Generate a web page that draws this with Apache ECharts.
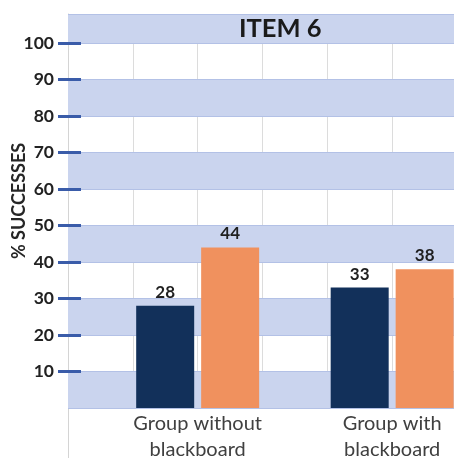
<!DOCTYPE html>
<html>
<head>
<meta charset="utf-8">
<script src="https://cdn.jsdelivr.net/npm/echarts@6/dist/echarts.min.js"></script>
<style>
  html, body { margin: 0; padding: 0; background: #ffffff; }
  #chart { width: 454px; height: 458px; }
</style>
</head>
<body>
<div id="chart"></div>
<script>
// Group labels and where each group sits on the horizontal scale
const categories = ['Group without\nblackboard', 'Group with\nblackboard'];
const categoryPos = [2, 5];

// Percent of successes per group, two measurements each
const firstValues = [28, 33];
const secondValues = [44, 38];

// Labelled ticks on the percent axis
const yTickLabels = [10, 20, 30, 40, 50, 60, 70, 80, 90, 100];

const FONT = 'Lato, "Open Sans", sans-serif';
const NAVY = '#12305a';
const ORANGE = '#f0915e';
const BAND = '#cad4ee';
const TICK_BLUE = '#3a5ca9';

const toPoints = vals => vals.map((v, i) => [categoryPos[i], v]);

const chart = echarts.init(document.getElementById('chart'), null, { renderer: 'canvas' });

const option = {
  backgroundColor: '#ffffff',
  animation: false,
  textStyle: { fontFamily: FONT },
  title: {
    text: 'ITEM 6',
    left: 239,
    top: 16,
    padding: 0,
    textStyle: { fontFamily: FONT, fontSize: 25.5, fontWeight: 'bold', color: '#1a1a1a' }
  },
  grid: [
    // main plot
    { left: 68, right: -3, top: 14, bottom: 50, outerBoundsMode: 'none', containLabel: false },
    // tick marks for 10..100
    { left: 68, right: -3, top: 43, bottom: 86.5, outerBoundsMode: 'none', containLabel: false },
    // left boundary line running down past the plot
    { left: 68, width: 10, top: 14, bottom: 0, outerBoundsMode: 'none', containLabel: false }
  ],
  xAxis: [
    {
      gridIndex: 0,
      type: 'value',
      min: 0,
      max: 6,
      interval: 1,
      z: 0,
      axisLine: { show: false },
      axisTick: { show: false },
      splitLine: { show: true, lineStyle: { color: '#dcdcdc', width: 1 } },
      axisLabel: {
        margin: 3,
        color: '#404040',
        fontFamily: FONT,
        fontSize: 20,
        lineHeight: 26,
        formatter: v => {
          const i = categoryPos.indexOf(v);
          return i >= 0 ? categories[i] : '';
        }
      }
    },
    { gridIndex: 1, type: 'value', min: 0, max: 6, show: false },
    { gridIndex: 2, type: 'value', min: 0, max: 1, show: false }
  ],
  yAxis: [
    {
      gridIndex: 0,
      type: 'value',
      min: 0,
      max: 108,
      interval: 10,
      z: 1,
      name: '% SUCCESSES',
      nameLocation: 'middle',
      nameGap: 40,
      nameTextStyle: {
        fontFamily: FONT, fontSize: 18, fontWeight: 'bold', color: '#262626',
        padding: [0, 0, 0, 20]
      },
      axisLine: { show: false },
      axisTick: { show: false },
      axisLabel: { show: false },
      splitLine: { show: true, lineStyle: { color: '#b3c1e6', width: 1 } },
      splitArea: { show: true, areaStyle: { color: [BAND, 'rgba(255,255,255,0)'] } }
    },
    {
      gridIndex: 1,
      type: 'value',
      min: yTickLabels[0],
      max: yTickLabels[yTickLabels.length - 1],
      interval: 10,
      z: 3,
      axisLine: { show: false },
      axisTick: { show: true, inside: false, length: 10, lineStyle: { color: TICK_BLUE, width: 3 } },
      axisLabel: {
        margin: 14,
        color: '#222222',
        fontFamily: FONT,
        fontSize: 17.5,
        fontWeight: 'bold'
      },
      splitLine: { show: false }
    },
    {
      gridIndex: 1,
      type: 'value',
      position: 'left',
      offset: 0,
      min: yTickLabels[0],
      max: yTickLabels[yTickLabels.length - 1],
      interval: 10,
      z: 3,
      axisLine: { show: false },
      axisTick: { show: true, inside: true, length: 13, lineStyle: { color: TICK_BLUE, width: 3 } },
      axisLabel: { show: false },
      splitLine: { show: false }
    },
    {
      gridIndex: 2,
      type: 'value',
      min: 0,
      max: 1,
      z: 0,
      axisLine: { show: true, lineStyle: { color: '#d4d4d4', width: 1 } },
      axisTick: { show: false },
      axisLabel: { show: false },
      splitLine: { show: false }
    }
  ],
  series: [
    {
      type: 'bar',
      xAxisIndex: 0,
      yAxisIndex: 0,
      z: 5,
      barWidth: 58,
      barGap: '12%',
      itemStyle: { color: NAVY },
      label: {
        show: true, position: 'top', distance: 5,
        fontFamily: FONT, fontSize: 17, fontWeight: 'bold', color: '#1f1f1f'
      },
      data: toPoints(firstValues)
    },
    {
      type: 'bar',
      xAxisIndex: 0,
      yAxisIndex: 0,
      z: 5,
      barWidth: 58,
      barGap: '12%',
      itemStyle: { color: ORANGE },
      label: {
        show: true, position: 'top', distance: 5,
        fontFamily: FONT, fontSize: 17, fontWeight: 'bold', color: '#1f1f1f'
      },
      data: toPoints(secondValues)
    }
  ]
};

chart.setOption(option);
</script>
</body>
</html>
